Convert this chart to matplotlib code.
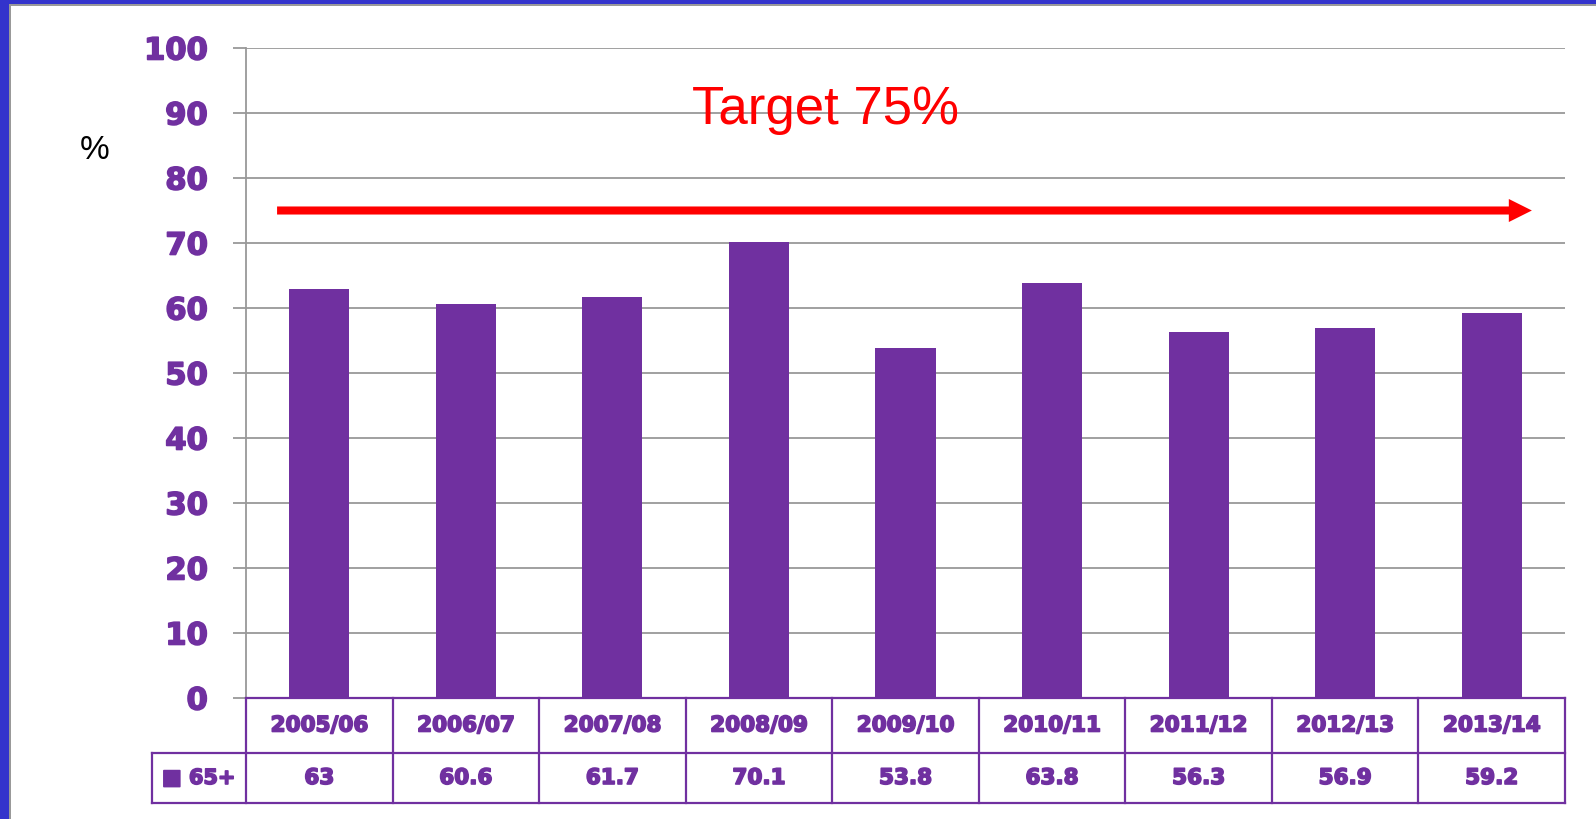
import numpy as np
import matplotlib
matplotlib.use("Agg")
import matplotlib.pyplot as plt
import matplotlib.patheffects as pe
from matplotlib.patches import Rectangle
from matplotlib.transforms import blended_transform_factory

# data
years = ["2005/06", "2006/07", "2007/08", "2008/09", "2009/10",
         "2010/11", "2011/12", "2012/13", "2013/14"]
values = [63, 60.6, 61.7, 70.1, 53.8, 63.8, 56.3, 56.9, 59.2]
series_name = "65+"
target = 75
y_ticks = [0, 10, 20, 30, 40, 50, 60, 70, 80, 90, 100]

purple = "#7030A0"
grey = "#999999"
heavy = [pe.withStroke(linewidth=1.2, foreground=purple)]

fig = plt.figure(figsize=(15.96, 8.2), dpi=100)
fig.patch.set_facecolor("white")
ax = fig.add_axes([246 / 1596, 1 - 699 / 820, (1565 - 246) / 1596, (699 - 49) / 820])

x = np.arange(len(years))
ax.bar(x, values, width=0.41, color=purple, zorder=3)

ax.set_xlim(-0.5, len(years) - 0.5)
ax.set_ylim(0, 100)
ax.set_yticks(y_ticks)
ax.set_yticklabels([str(t) for t in y_ticks], color=purple, fontsize=22,
                   fontweight="bold", family="DejaVu Sans")
for lab in ax.get_yticklabels():
    lab.set_path_effects(heavy)
ax.tick_params(axis="y", length=9.5, width=1.3, color=grey, pad=18)
ax.set_xticks([])
ax.grid(axis="y", color=grey, linewidth=1.3, zorder=1)
for s in ["top", "right", "bottom"]:
    ax.spines[s].set_visible(False)
ax.spines["left"].set_color(grey)
ax.spines["left"].set_linewidth(1.3)

# target arrow and label
ax.annotate("", xy=(8.274, target), xytext=(-0.288, target),
            arrowprops=dict(facecolor="red", edgecolor="red", linewidth=0,
                            width=5.8, headwidth=16.6, headlength=16.6, shrink=0),
            zorder=4)
ax.text(3.457, 88.5, f"Target {target}%", color="red", fontsize=38,
        family="Liberation Sans", ha="center", va="baseline", zorder=5)

fig.text(95 / 1596, 1 - 151 / 820, "%", fontsize=24, family="Liberation Sans",
         ha="center", va="center", color="black")

# data table under the axis
tr = blended_transform_factory(ax.transData, ax.transAxes)
h1 = 55 / 650
h2 = 105 / 650
left_cell = -0.5 - 94 * 9 / 1319
lw = 1.6
ax.plot([-0.5, len(years) - 0.5], [0, 0], transform=tr, color=purple, lw=lw, clip_on=False, zorder=6)
ax.plot([left_cell, len(years) - 0.5], [-h1, -h1], transform=tr, color=purple, lw=lw, clip_on=False)
ax.plot([left_cell, len(years) - 0.5], [-h2, -h2], transform=tr, color=purple, lw=lw, clip_on=False)
ax.plot([left_cell, left_cell], [-h1, -h2], transform=tr, color=purple, lw=lw, clip_on=False)
for i in range(len(years) + 1):
    ax.plot([i - 0.5, i - 0.5], [0, -h2], transform=tr, color=purple, lw=lw, clip_on=False)
for i, (yr, v) in enumerate(zip(years, values)):
    ax.text(i, -h1 / 2, yr, transform=tr, ha="center", va="center", color=purple,
            fontsize=15.5, fontweight="bold", family="DejaVu Sans", path_effects=heavy)
    ax.text(i, -(h1 + h2) / 2, f"{v:g}", transform=tr, ha="center", va="center",
            color=purple, fontsize=15.5, fontweight="bold", family="DejaVu Sans",
            path_effects=heavy)
ax.text(left_cell + 10 * 9 / 1319, -(h1 + h2) / 2, "\u25a0 " + series_name, transform=tr,
        ha="left", va="center", color=purple, fontsize=15, fontweight="bold",
        family="DejaVu Sans", path_effects=heavy)

# slide frame
fig.add_artist(Rectangle((0, 0), 9 / 1596, 1, transform=fig.transFigure, color="#3333CC", lw=0))
fig.add_artist(Rectangle((0, 1 - 5 / 820), 1, 5 / 820, transform=fig.transFigure, color="#3333CC", lw=0))
fig.add_artist(Rectangle((9 / 1596, 0), 2 / 1596, 1 - 5 / 820, transform=fig.transFigure, color="#999999", lw=0))
fig.add_artist(Rectangle((9 / 1596, 1 - 7 / 820), 1, 2 / 820, transform=fig.transFigure, color="#999999", lw=0))

fig.savefig("out.png", dpi=100)
